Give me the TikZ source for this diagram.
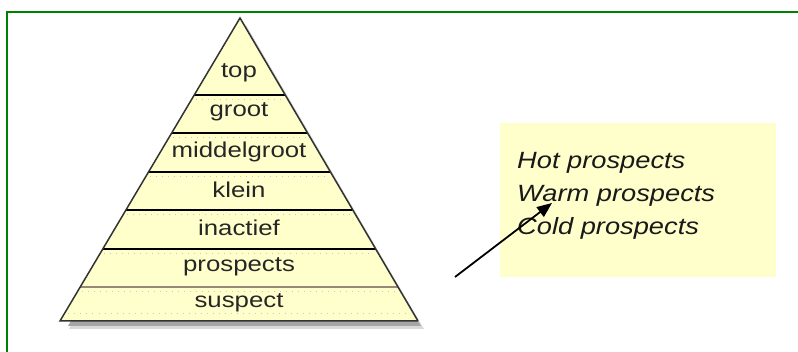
\documentclass[tikz,border=0pt]{standalone}
\usepackage{fontspec}
\usetikzlibrary{calc,arrows.meta}
\newfontfamily\pyrfont[FakeStretch=1.2]{Liberation Sans}
\newfontfamily\boxfont[FakeStretch=1.16]{Liberation Sans}
\definecolor{pyrfill}{HTML}{FFFFCC}
\definecolor{frame}{HTML}{008000}
\tikzset{
  band/.style={draw=black, line width=1.4pt},
  bandtxt/.style={font=\pyrfont\fontsize{21.5}{21.5}\selectfont, text=black!85, inner sep=0pt},
  hottxt/.style={font=\boxfont\itshape\fontsize{23.5}{23.5}\selectfont, text=black!90, inner sep=0pt, anchor=west},
  dotrow/.style={draw=gray!45, line width=0.8pt, dash pattern=on 1pt off 5pt},
}
\begin{document}
\begin{tikzpicture}[x=1pt,y=-1pt]
\useasboundingbox (0,0) rectangle (798,352);
% frame
\draw[frame, line width=2.4pt] (798,12) -- (7,12) -- (7,352);
% pyramid corners
\coordinate (A) at (240,18);
\coordinate (BL) at (60,321);
\coordinate (BR) at (418,321);
% shadow
\fill[gray!30] ($(A)+(6,7)$) -- ($(BL)+(9,8)$) -- ($(BR)+(6,8)$) -- cycle;
\fill[gray!70] ($(A)+(3,4)$) -- ($(BL)+(8,5)$) -- ($(BR)+(3,5)$) -- cycle;
% pyramid
\fill[pyrfill] (A) -- (BL) -- (BR) -- cycle;
% dotted rows
\foreach \t in {0.268,0.393,0.522,0.648,0.776,0.901,0.975}{
  \draw[dotrow] ($(A)!\t!(BL)+(4,0)$) -- ($(A)!\t!(BR)-(4,0)$);
}
% band lines
\foreach \t in {0.254,0.3795,0.508,0.634,0.7624}{
  \draw[band] ($(A)!\t!(BL)$) -- ($(A)!\t!(BR)$);
}
\draw[draw=black!55!brown!60, line width=1.6pt] ($(A)!0.8878!(BL)$) -- ($(A)!0.8878!(BR)$);
\draw[black!80, line width=1.5pt, line join=miter] (BR) -- (A) -- (BL) -- (BR);
% labels
\node[bandtxt] (top) at (239,73) {top};
\node[bandtxt] (groot) at (239,112) {groot};
\node[bandtxt] (middel) at (239,152) {middelgroot};
\node[bandtxt] (klein) at (239,190) {klein};
\node[bandtxt] (inact) at (239,228) {inactief};
\node[bandtxt] (prosp) at (239,267) {prospects};
\node[bandtxt] (susp) at (239,303) {suspect};
% right box
\node[fill=pyrfill, minimum width=276pt, minimum height=154pt, anchor=north west, inner sep=0pt] (box) at (500,123) {};
\node[hottxt] (hot) at (517,163) {Hot prospects};
\node[hottxt] (warm) at (517,196) {Warm prospects};
\node[hottxt] (cold) at (517,228) {Cold prospects};
% arrow
\coordinate (astart) at (455,277);
\coordinate (aend) at (552,203);
\draw[line width=1.8pt, -{Triangle[length=15pt,width=12pt]}] (astart) -- (aend);
\end{tikzpicture}
\end{document}
